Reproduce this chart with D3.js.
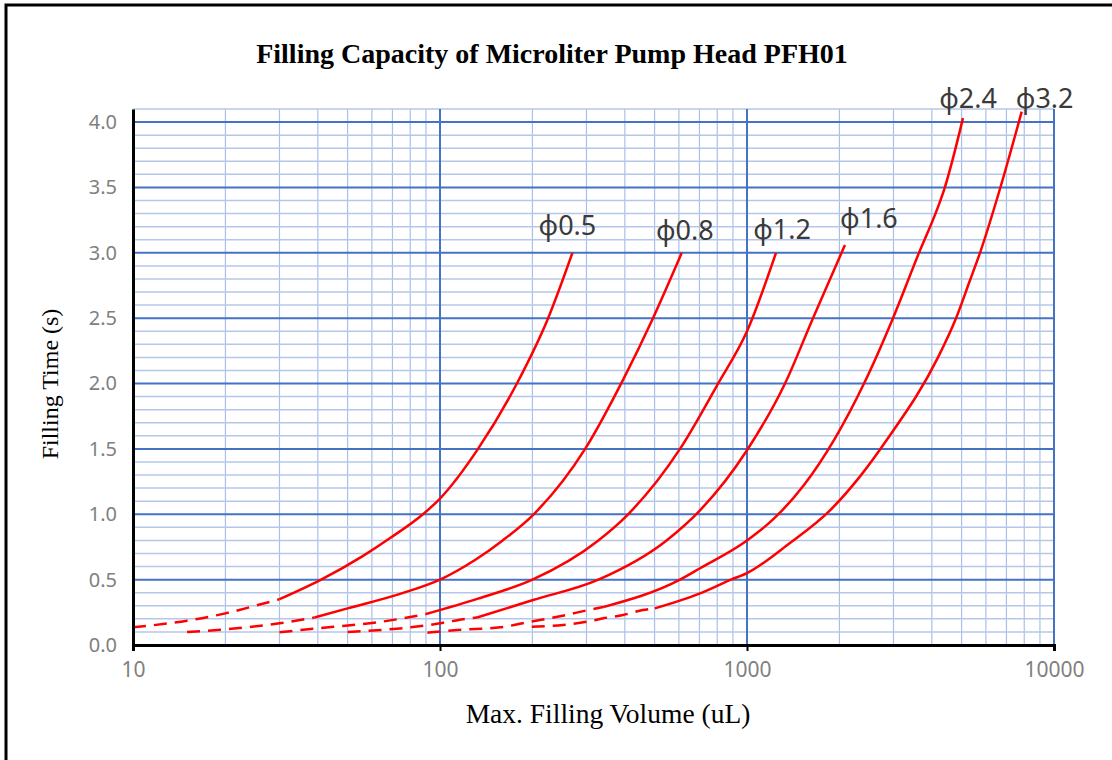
<!DOCTYPE html>
<html>
<head>
<meta charset="utf-8">
<script src="https://cdn.jsdelivr.net/npm/d3@7"></script>
<style>
  html, body { margin: 0; padding: 0; background: #fff; }
  svg { display: block; }
</style>
</head>
<body>
<svg id="chart" width="1112" height="760"></svg>
<script>
// ---------------- DATA ----------------
const seriesLabels = ["φ0.5", "φ0.8", "φ1.2", "φ1.6", "φ2.4", "φ3.2"];

// dashed (low-volume) portions: volume (uL) and time (s)
const dashedVolumes = [
  [10, 15, 20, 25, 30],
  [15, 20, 30, 39],
  [30, 45, 60, 74, 90],
  [50, 74, 100, 114, 132],
  [91, 114, 157, 199, 246, 308, 340],
  [199, 252, 301, 340, 395, 458, 501]
];
const dashedTimes = [
  [0.135, 0.186, 0.242, 0.30, 0.35],
  [0.10, 0.12, 0.166, 0.21],
  [0.097, 0.14, 0.168, 0.20, 0.237],
  [0.10, 0.127, 0.166, 0.19, 0.21],
  [0.094, 0.115, 0.135, 0.18, 0.22, 0.27, 0.29],
  [0.14, 0.153, 0.178, 0.204, 0.23, 0.268, 0.28]
];

// solid portions
const solidVolumes = [
  [30, 41, 56, 69, 88, 100, 133, 178, 225, 270],
  [39, 50, 75, 100, 130, 160, 202, 297, 395, 494, 613],
  [90, 133, 200, 328, 410, 605, 805, 1000, 1243],
  [132, 201, 328, 547, 703, 1000, 1330, 1640, 2085],
  [340, 605, 703, 1000, 1206, 1522, 1935, 2405, 2989, 3633, 4158, 4382, 5053],
  [501, 703, 887, 1000, 1380, 1864, 2335, 2851, 4189, 4796, 5326, 5741, 6670, 7849]
];
const solidTimes = [
  [0.35, 0.5, 0.68, 0.82, 1.0, 1.12, 1.5, 2.0, 2.5, 3.0],
  [0.21, 0.28, 0.395, 0.5, 0.65, 0.80, 1.0, 1.5, 2.03, 2.5, 3.0],
  [0.237, 0.355, 0.5, 0.8, 1.0, 1.5, 2.0, 2.4, 3.0],
  [0.21, 0.344, 0.5, 0.8, 1.03, 1.49, 2.0, 2.5, 3.06],
  [0.29, 0.5, 0.587, 0.80, 0.953, 1.214, 1.581, 2.0, 2.5, 3.0, 3.33, 3.48, 4.03],
  [0.28, 0.395, 0.5, 0.55, 0.78, 1.03, 1.29, 1.568, 2.2, 2.5, 2.79, 3.0, 3.49, 4.08]
];

const xTickValues = [10, 100, 1000, 10000];
const yTickValues = [0, 0.5, 1.0, 1.5, 2.0, 2.5, 3.0, 3.5, 4.0];

const titleText = "Filling Capacity of Microliter Pump Head PFH01";
const xAxisTitle = "Max. Filling Volume (uL)";
const yAxisTitle = "Filling Time (s)";

// ---------------- LAYOUT / STYLE ----------------
const plotLeft = 133, plotRight = 1054, plotTop = 109, plotBottom = 645;
const labelOffsets = [[-5, -18], [3, -13], [6, -14], [24, -17], [5, -10], [23, -4]];
const tickFont = "'Noto Sans', 'DejaVu Sans', sans-serif";
const serifFont = "'Liberation Serif', 'Times New Roman', serif";

const svg = d3.select("#chart");

// outer frame
svg.append("rect")
  .attr("x", 6).attr("y", 5).attr("width", 1120).attr("height", 780)
  .attr("fill", "#fff").attr("stroke", "#000").attr("stroke-width", 3);

const x = d3.scaleLog().domain([10, 10000]).range([plotLeft, plotRight]);
const y = d3.scaleLinear().domain([0, 4.1]).range([plotBottom, plotTop]);

const grid = svg.append("g");

// minor vertical grid
const minorX = x.ticks().filter(v => !xTickValues.includes(v));
grid.selectAll("line.vminor").data(minorX).join("line")
  .attr("x1", d => x(d)).attr("x2", d => x(d))
  .attr("y1", plotTop).attr("y2", plotBottom)
  .attr("stroke", "#a9c1ea").attr("stroke-width", 1.2);

// minor horizontal grid
const minorY = d3.range(0, 42).map(i => i / 10).filter(v => Math.round(v * 10) % 5 !== 0);
grid.selectAll("line.hminor").data(minorY).join("line")
  .attr("x1", plotLeft).attr("x2", plotRight)
  .attr("y1", d => y(d)).attr("y2", d => y(d))
  .attr("stroke", "#b4c7e9").attr("stroke-width", 1.5);

// major horizontal grid
grid.selectAll("line.hmajor").data(yTickValues).join("line")
  .attr("x1", plotLeft).attr("x2", plotRight)
  .attr("y1", d => y(d)).attr("y2", d => y(d))
  .attr("stroke", "#4472c4").attr("stroke-width", 2);

// major vertical grid
grid.selectAll("line.vmajor").data(xTickValues.slice(1)).join("line")
  .attr("x1", d => x(d)).attr("x2", d => x(d))
  .attr("y1", plotTop).attr("y2", plotBottom)
  .attr("stroke", "#4472c4").attr("stroke-width", 2);

// curves
const line = d3.line().x(d => x(d[0])).y(d => y(d[1])).curve(d3.curveMonotoneX);
const curves = svg.append("g");
seriesLabels.forEach((lab, i) => {
  const dPts = dashedVolumes[i].map((v, j) => [v, dashedTimes[i][j]]);
  const sPts = solidVolumes[i].map((v, j) => [v, solidTimes[i][j]]);
  curves.append("path").attr("d", line(dPts))
    .attr("fill", "none").attr("stroke", "#ff0000").attr("stroke-width", 2.5)
    .attr("stroke-dasharray", "13,8");
  curves.append("path").attr("d", line(sPts))
    .attr("fill", "none").attr("stroke", "#ff0000").attr("stroke-width", 2.5);
  const last = sPts[sPts.length - 1];
  curves.append("text")
    .attr("x", x(last[0]) + labelOffsets[i][0])
    .attr("y", y(last[1]) + labelOffsets[i][1])
    .attr("text-anchor", "middle")
    .attr("font-family", tickFont)
    .attr("font-size", 27)
    .attr("fill", "#3a3a3a")
    .text(lab);
});

// axes
const xAxis = d3.axisBottom(x).tickValues(xTickValues).tickFormat(d3.format("d"))
  .tickSize(6).tickPadding(11);
const gx = svg.append("g").attr("transform", `translate(0,${plotBottom})`).call(xAxis);
gx.select(".domain").attr("stroke", "#000").attr("stroke-width", 3);
gx.selectAll(".tick line").attr("stroke", "#000").attr("stroke-width", 2);
gx.selectAll(".tick text")
  .attr("font-family", tickFont)
  .attr("font-size", 21).attr("fill", "#808080");

const yAxis = d3.axisLeft(y).tickValues(yTickValues).tickFormat(d3.format(".1f"))
  .tickSize(0).tickPadding(16);
const gy = svg.append("g").attr("transform", `translate(${plotLeft},0)`).call(yAxis);
gy.select(".domain").attr("stroke", "#000").attr("stroke-width", 3);
gy.selectAll(".tick text")
  .attr("font-family", tickFont)
  .attr("font-size", 20).attr("fill", "#808080");

// titles
svg.append("text")
  .attr("x", 552).attr("y", 63).attr("text-anchor", "middle")
  .attr("font-family", serifFont)
  .attr("font-weight", "bold").attr("font-size", 28).attr("fill", "#000")
  .text(titleText);

svg.append("text")
  .attr("x", 608).attr("y", 723).attr("text-anchor", "middle")
  .attr("font-family", serifFont)
  .attr("font-size", 27.5).attr("fill", "#000")
  .text(xAxisTitle);

svg.append("text")
  .attr("transform", "translate(58,384) rotate(-90)")
  .attr("text-anchor", "middle")
  .attr("font-family", serifFont)
  .attr("font-size", 24).attr("fill", "#000")
  .text(yAxisTitle);
</script>
</body>
</html>
